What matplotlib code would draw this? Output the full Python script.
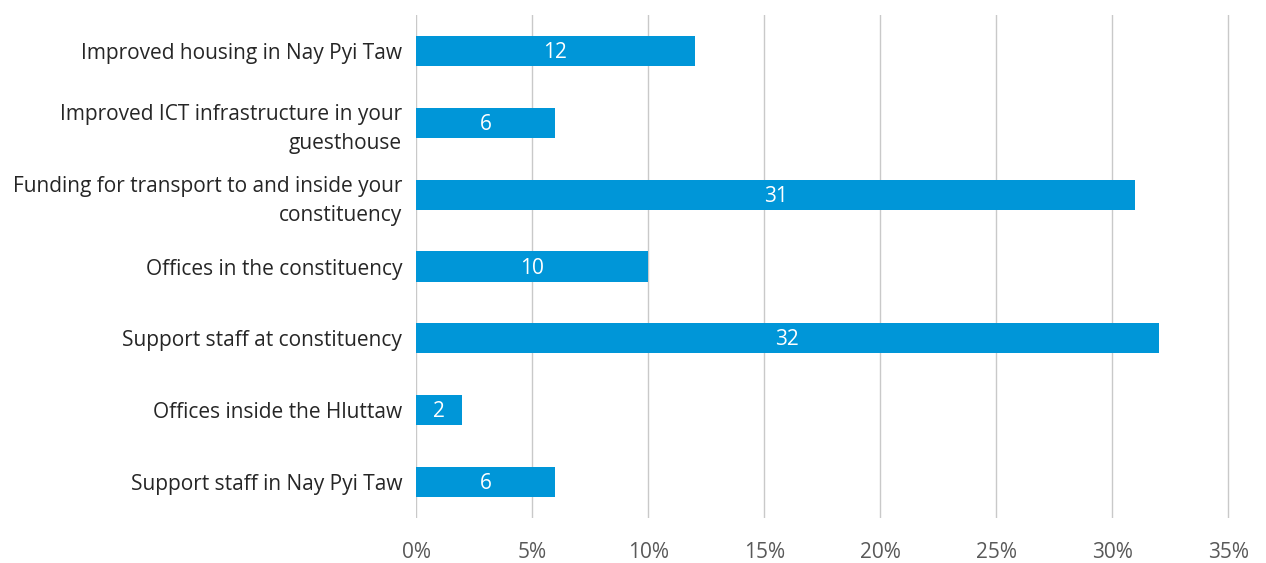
import matplotlib.pyplot as plt
import numpy as np

plt.rcParams['font.family'] = ['Open Sans', 'DejaVu Sans']

# data, top to bottom as in the chart
categories = ['Improved housing in Nay Pyi Taw',
              'Improved ICT infrastructure in your\nguesthouse',
              'Funding for transport to and inside your\nconstituency',
              'Offices in the constituency',
              'Support staff at constituency',
              'Offices inside the Hluttaw',
              'Support staff in Nay Pyi Taw']
values = [12, 6, 31, 10, 32, 2, 6]
xticks = [0, 5, 10, 15, 20, 25, 30, 35]
xtick_labels = ['0%', '5%', '10%', '15%', '20%', '25%', '30%', '35%']

bar_color = '#0096d8'
text_gray = '#595959'

fig = plt.figure(figsize=(12.66, 5.63), dpi=100)
ax = fig.add_axes([0.3286, 0.080, 0.9715 - 0.3286, 0.973 - 0.080])

y = np.arange(len(categories))
bars = ax.barh(y, values, height=0.42, color=bar_color, zorder=3)
for b, v in zip(bars, values):
    ax.text(b.get_width() / 2, b.get_y() + b.get_height() / 2 + 0.02, str(v),
            ha='center', va='center', color='white', fontsize=15, zorder=4)

ax.set_ylim(len(categories) - 0.5, -0.5)
ax.set_xlim(0, 35.07)
ax.set_yticks(y)
ax.set_yticklabels(categories, fontsize=15, color='#262626', ha='right',
                   linespacing=1.5)
ax.set_xticks(xticks)
ax.set_xticklabels(xtick_labels, fontsize=15, color=text_gray)
ax.tick_params(axis='both', length=0)
ax.tick_params(axis='y', pad=10)
ax.tick_params(axis='x', pad=17)
ax.xaxis.grid(True, color='#c9c9c9', linewidth=1)
ax.set_axisbelow(True)
for s in ax.spines.values():
    s.set_visible(False)

fig.savefig('out.png', dpi=100)
